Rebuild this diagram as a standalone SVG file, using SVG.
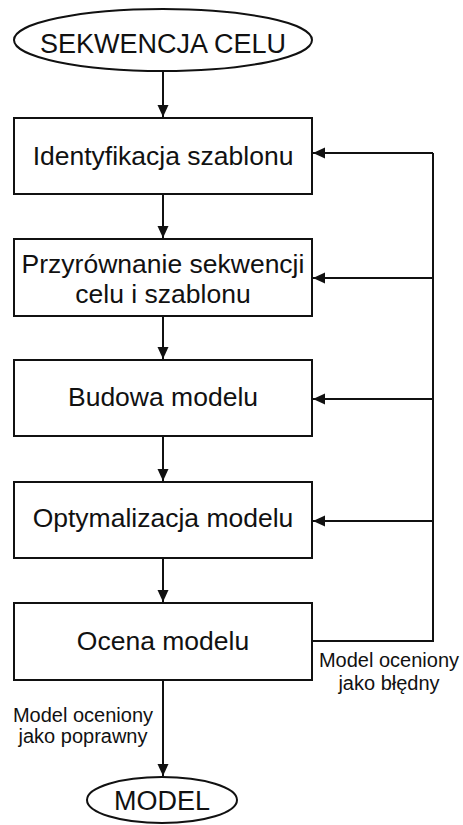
<svg xmlns="http://www.w3.org/2000/svg" width="463" height="825" viewBox="0 0 463 825">
<style>
.shape{fill:#fff;stroke:#111;stroke-width:2}
.t{font-family:"Liberation Sans",Arial,sans-serif;font-size:26.5px;fill:#111;text-anchor:middle}
.l{font-family:"Liberation Sans",Arial,sans-serif;font-size:20px;fill:#111;text-anchor:middle}
.c{fill:none;stroke:#111;stroke-width:2}
</style>
<defs>
<marker id="ah" markerWidth="12" markerHeight="12" viewBox="0 0 12 12" refX="12" refY="6" orient="auto" markerUnits="userSpaceOnUse">
<path d="M0,0.5 L12,6 L0,11.5 Z" fill="#111"/>
</marker>
</defs>
<g id="connectors">
<line class="c" x1="163" y1="71" x2="163" y2="117" marker-end="url(#ah)"/>
<line class="c" x1="163" y1="194" x2="163" y2="238" marker-end="url(#ah)"/>
<line class="c" x1="163" y1="316" x2="163" y2="359" marker-end="url(#ah)"/>
<line class="c" x1="163" y1="436" x2="163" y2="481" marker-end="url(#ah)"/>
<line class="c" x1="163" y1="558" x2="163" y2="602" marker-end="url(#ah)"/>
<line class="c" x1="163" y1="680" x2="163" y2="776" marker-end="url(#ah)"/>
<polyline class="c" points="313,641 433,641 433,153"/>
<line class="c" x1="433" y1="153" x2="313" y2="153" marker-end="url(#ah)"/>
<line class="c" x1="433" y1="278" x2="313" y2="278" marker-end="url(#ah)"/>
<line class="c" x1="433" y1="399" x2="313" y2="399" marker-end="url(#ah)"/>
<line class="c" x1="433" y1="521" x2="313" y2="521" marker-end="url(#ah)"/>
<text class="l" x="389" y="667">Model oceniony</text>
<text class="l" x="389" y="690">jako błędny</text>
<text class="l" x="83" y="722">Model oceniony</text>
<text class="l" x="83" y="743">jako poprawny</text>
</g>
<g id="start">
<ellipse class="shape" cx="163" cy="40" rx="149" ry="31"/>
<text class="t" x="163" y="53" style="font-size:27px">SEKWENCJA CELU</text>
</g>
<g id="identyfikacja">
<rect class="shape" x="14" y="118" width="298" height="76"/>
<text class="t" x="163" y="165">Identyfikacja szablonu</text>
</g>
<g id="przyrownanie">
<rect class="shape" x="14" y="239" width="298" height="77"/>
<text class="t" x="163" y="273">Przyrównanie sekwencji</text>
<text class="t" x="163" y="303">celu i szablonu</text>
</g>
<g id="budowa">
<rect class="shape" x="14" y="360" width="298" height="76"/>
<text class="t" x="163" y="406">Budowa modelu</text>
</g>
<g id="optymalizacja">
<rect class="shape" x="14" y="482" width="298" height="76"/>
<text class="t" x="163" y="527">Optymalizacja modelu</text>
</g>
<g id="ocena">
<rect class="shape" x="14" y="603" width="298" height="77"/>
<text class="t" x="163" y="650">Ocena modelu</text>
</g>
<g id="model">
<ellipse class="shape" cx="162" cy="800" rx="75" ry="23"/>
<text class="t" x="162" y="810" style="font-size:27px">MODEL</text>
</g>
</svg>
